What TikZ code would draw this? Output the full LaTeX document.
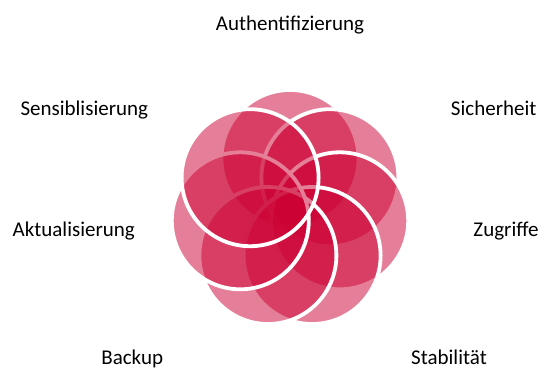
\documentclass[tikz,border=0pt]{standalone}
\usepackage{fontspec}
\setmainfont{Carlito}
\definecolor{petalred}{RGB}{204,0,51}
\tikzset{
  petal/.style={circle, draw=white, line width=3.8pt, fill=petalred, fill opacity=0.5,
    minimum size=137pt, inner sep=0pt},
  lbl/.style={anchor=base, font=\fontsize{21}{25}\selectfont, text=black, inner sep=0pt}
}
\begin{document}
\begin{tikzpicture}[x=1pt,y=-1pt]
\useasboundingbox (0,0) rectangle (548,370);
% petals, drawn clockwise from the top
\node[petal] (p1) at (290.0,158.5) {};
\node[petal] (p2) at (329.9,177.7) {};
\node[petal] (p3) at (339.7,220.8) {};
\node[petal] (p4) at (312.1,255.5) {};
\node[petal] (p5) at (267.9,255.5) {};
\node[petal] (p6) at (240.3,220.8) {};
\node[petal] (p7) at (250.1,177.7) {};
% labels
\node[lbl] (l1) at (290.0,30.0) {Authentifizierung};
\node[lbl] (l2) at (493.7,115.0) {Sicherheit};
\node[lbl] (l3) at (506.0,236.7) {Zugriffe};
\node[lbl] (l4) at (449.0,364.5) {Stabilität};
\node[lbl] (l5) at (132.2,364.5) {Backup};
\node[lbl] (l6) at (73.8,236.7) {Aktualisierung};
\node[lbl] (l7) at (84.3,115.0) {Sensiblisierung};
\end{tikzpicture}
\end{document}
